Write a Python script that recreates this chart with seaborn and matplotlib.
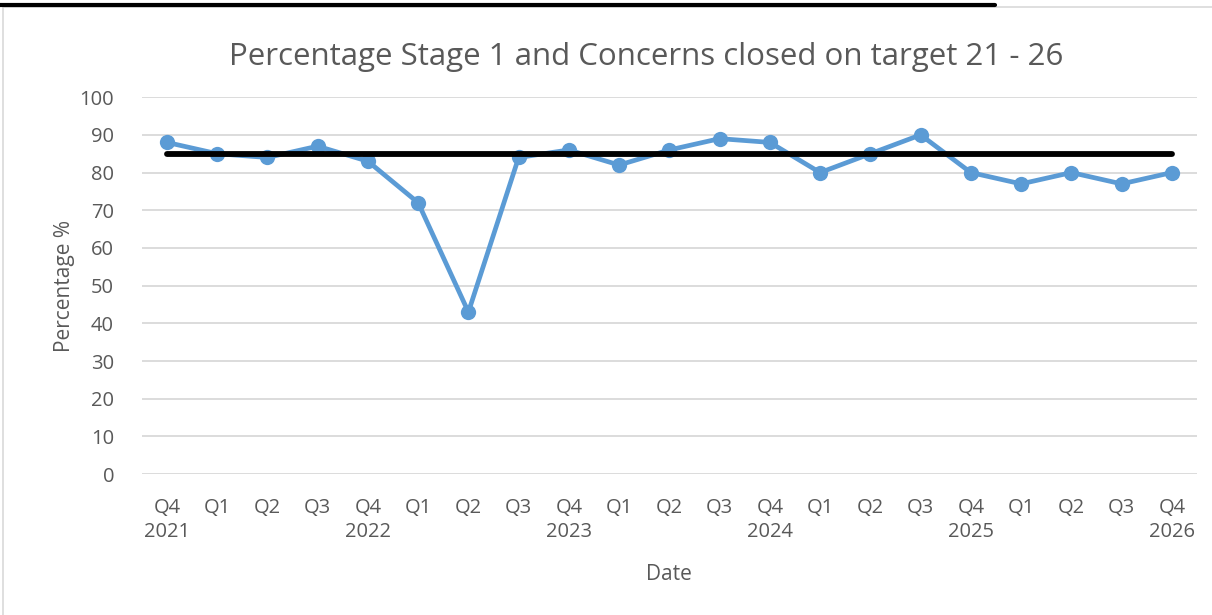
import matplotlib
matplotlib.use("Agg")
import matplotlib.pyplot as plt
import seaborn as sns
import pandas as pd
from matplotlib.lines import Line2D
from matplotlib.patches import Rectangle

# data
quarters = ["Q4\n2021", "Q1", "Q2", "Q3", "Q4\n2022", "Q1", "Q2", "Q3", "Q4\n2023",
            "Q1", "Q2", "Q3", "Q4\n2024", "Q1", "Q2", "Q3", "Q4\n2025",
            "Q1", "Q2", "Q3", "Q4\n2026"]
closed_pct = [88, 85, 84, 87, 83, 72, 43, 84, 86, 82, 86, 89, 88, 80, 85, 90, 80, 77, 80, 77, 80]
target_pct = [85] * len(quarters)

df = pd.DataFrame({"pos": range(len(quarters)), "closed": closed_pct, "target": target_pct})

sns.set_style("white")
plt.rcParams['font.family'] = ['Open Sans', 'DejaVu Sans']
grey = "#595959"

fig = plt.figure(figsize=(12.12, 6.15), dpi=100)
ax = fig.add_axes([0.117, 0.229, 0.8706, 0.613])

for y in range(0, 101, 10):
    ax.axhline(y, color="#d9d9d9", lw=1.3, zorder=0)

sns.lineplot(data=df, x="pos", y="closed", color="#5B9BD5", lw=3.4, marker="o",
             markersize=11, markeredgewidth=0, ax=ax, zorder=2)
sns.lineplot(data=df, x="pos", y="target", color="black", lw=4.2, ax=ax, zorder=3,
             solid_capstyle="round")

ax.set_xlim(-0.5, len(quarters) - 0.5)
ax.set_ylim(0, 100)
ax.set_yticks(range(0, 101, 10))
ax.set_xticks(range(len(quarters)))
ax.set_xticklabels(quarters, linespacing=1.3)
ax.tick_params(axis="both", labelsize=14.5, colors=grey, length=0)
ax.tick_params(axis="x", pad=17)
ax.tick_params(axis="y", pad=20)
for s in ax.spines.values():
    s.set_visible(False)

fig.text(646 / 1212, 1 - 57 / 615, "Percentage Stage 1 and Concerns closed on target 21 - 26",
         fontsize=22.5, color=grey, ha="center", va="center")
ax.set_xlabel("Date", fontsize=15, color=grey, labelpad=16)
ax.set_ylabel("Percentage %", fontsize=15, color=grey, labelpad=3)

# chart border and cut-off heading underline
fig.patches.append(Rectangle((3 / 1212, -0.01), 1.0, 1 - 7 / 615 + 0.01, transform=fig.transFigure,
                             fill=False, edgecolor="#d9d9d9", lw=1.2))
fig.lines.append(Line2D([0, 995 / 1212], [1 - 5 / 615] * 2, transform=fig.transFigure,
                        color="black", lw=3))

fig.savefig("out.png", dpi=100)
